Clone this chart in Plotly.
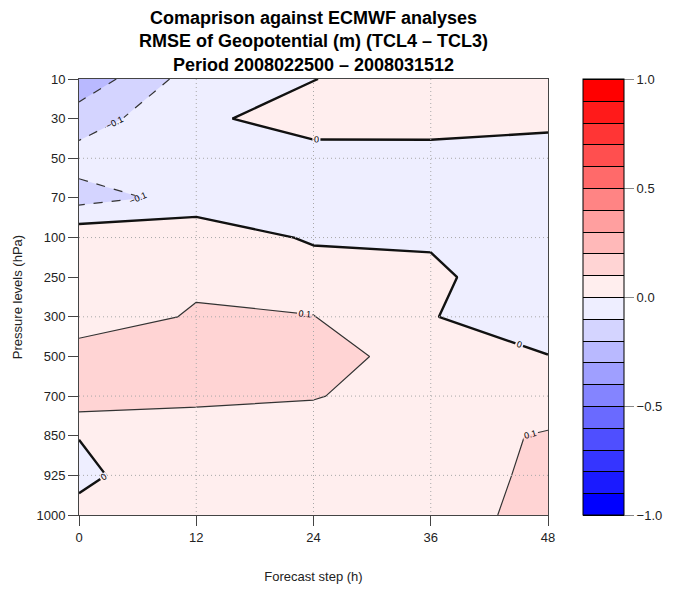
import plotly.graph_objects as go

# ---- data ----
steps = [0, 12, 24, 36, 48]
levels = ["10", "30", "50", "70", "100", "250", "300", "500", "700", "850", "925", "1000"]
# RMSE difference (TCL4 - TCL3), one row per pressure level, columns = forecast steps
diff = [
    [-0.270, -0.050, -0.002, 0.050, 0.060],   # 10
    [-0.149, -0.017, 0.038, 0.040, 0.030],    # 30
    [-0.060, -0.040, -0.034, -0.035, -0.056], # 50
    [-0.1375, -0.069, -0.050, -0.050, -0.060],# 70
    [0.071, 0.075, -0.015, -0.012, -0.050],   # 100
    [0.060, 0.081, 0.060, 0.020, -0.069],     # 250
    [0.041, 0.111, 0.102, 0.003, -0.040],     # 300
    [0.150, 0.160, 0.155, 0.040, 0.002],      # 500
    [0.165, 0.130, 0.107, 0.040, 0.069],      # 700
    [0.002, 0.023, 0.037, 0.080, 0.105],      # 850
    [-0.018, 0.060, 0.030, 0.011, 0.140],     # 925
    [0.022, 0.040, 0.030, 0.020, 0.160],      # 1000
]
cb_ticks = [-1.0, -0.5, 0.0, 0.5, 1.0]
x_grid = [12, 24, 36]
y_grid = [2, 4, 6, 8, 10]

yidx = list(range(len(levels)))

# ---- discrete blue-white-red colour scale (20 bands of 0.1) ----
def band_color(k):
    if k < 10:
        n = 10 - k
        g = round(17 + (n - 1) * 238 / 9)
        return f"rgb({255-g},{255-g},255)"
    n = k - 9
    g = round(17 + (n - 1) * 238 / 9)
    return f"rgb(255,{255-g},{255-g})"

def step_scale(p_of):
    cs = [[0.0, band_color(0)]]
    for k in range(1, 20):
        p = p_of(-1 + 0.1 * k)
        cs.append([p, band_color(k - 1)])
        cs.append([p, band_color(k)])
    cs.append([1.0, band_color(19)])
    return cs

# contour fill maps colourscale onto [-1.05, 1.05]
fill_scale = step_scale(lambda v: (v + 1.05) / 2.1)
# colour bar (heatmap colouring) maps colourscale onto [zmin, zmax] = [-1, 1]
bar_scale = step_scale(lambda v: (v + 1.0) / 2.0)

fig = go.Figure()

# filled bands (no lines)
fig.add_trace(go.Contour(
    x=steps, y=yidx, z=diff, colorscale=fill_scale, showscale=False,
    contours=dict(start=-1, end=1, size=0.1, coloring="fill", showlines=False),
    line=dict(width=0, smoothing=0), hoverinfo="skip",
))

# invisible trace only for the colour bar with black separators
fig.add_trace(go.Contour(
    x=steps, y=yidx, z=diff, colorscale=bar_scale, zmin=-1, zmax=1, zauto=False,
    opacity=0, showscale=True,
    contours=dict(start=-1, end=1, size=0.1, coloring="heatmap", showlines=True),
    line=dict(width=1, color="black", smoothing=0), hoverinfo="skip",
    colorbar=dict(
        x=1.075, xanchor="left", xpad=0, ypad=0, y=0.5, yanchor="middle",
        len=1, lenmode="fraction", thickness=41,
        outlinewidth=1, outlinecolor="black",
        tickvals=cb_ticks, tickformat=".1f", ticks="outside", ticklen=10,
        tickcolor="#888", tickfont=dict(family="Liberation Sans", size=13, color="#222"),
    ),
))

# grid (dotted) drawn above the fill
grid_line = dict(color="#a8a8a8", width=1, dash="1px,3px")
for xv in x_grid:
    fig.add_trace(go.Scatter(x=[xv, xv], y=[yidx[0], yidx[-1]], mode="lines",
                             line=grid_line, showlegend=False, hoverinfo="skip"))
for yv in y_grid:
    fig.add_trace(go.Scatter(x=[steps[0], steps[-1]], y=[yv, yv], mode="lines",
                             line=grid_line, showlegend=False, hoverinfo="skip"))

lab = dict(family="Liberation Sans", size=9, color="black")
# negative contours: dashed
fig.add_trace(go.Contour(
    x=steps, y=yidx, z=diff, showscale=False,
    contours=dict(start=-1, end=-0.1, size=0.1, coloring="none", showlabels=True, labelfont=lab),
    line=dict(width=1.2, color="#333", dash="dash", smoothing=0), hoverinfo="skip",
))
# positive contours: thin solid
fig.add_trace(go.Contour(
    x=steps, y=yidx, z=diff, showscale=False,
    contours=dict(start=0.1, end=1, size=0.1, coloring="none", showlabels=True, labelfont=lab),
    line=dict(width=1.2, color="#333", smoothing=0), hoverinfo="skip",
))
# zero contour: thick
fig.add_trace(go.Contour(
    x=steps, y=yidx, z=diff, showscale=False,
    contours=dict(start=0, end=0, size=0.1, coloring="none", showlabels=True, labelfont=lab),
    line=dict(width=2.4, color="#111", smoothing=0), hoverinfo="skip",
))

fig.update_layout(
    width=679, height=589,
    margin=dict(l=79, r=131, t=79, b=74, autoexpand=False),
    paper_bgcolor="white", plot_bgcolor="white",
    showlegend=False,
    font=dict(family="Liberation Sans", size=13, color="#222"),
    title=dict(
        text="<b>Comaprison against ECMWF analyses</b><br><b>RMSE of Geopotential (m) (TCL4 – TCL3)</b><br><b>Period 2008022500 – 2008031512</b>",
        x=(79 + 548) / 2 / 679, xanchor="center",
        yref="container", y=1 - 24 / 589, yanchor="middle",
        font=dict(family="Liberation Sans", size=18, color="black"),
    ),
    xaxis=dict(
        range=[steps[0], steps[-1]], tickvals=steps, ticks="outside", ticklen=10,
        tickcolor="#444", showline=True, linecolor="#444", mirror=True,
        showgrid=False, zeroline=False, automargin=False,
        title=dict(text="Forecast step (h)", standoff=28, font=dict(size=13)),
        tickfont=dict(size=13),
    ),
    yaxis=dict(
        range=[yidx[-1], yidx[0]], tickvals=yidx, ticktext=levels, ticks="outside",
        ticklen=10, tickcolor="#444", showline=True, linecolor="#444", mirror=True,
        showgrid=False, zeroline=False, automargin=False,
        title=dict(text="Pressure levels (hPa)", standoff=10, font=dict(size=13)),
        tickfont=dict(size=13),
    ),
)

fig.write_html("out.html")
